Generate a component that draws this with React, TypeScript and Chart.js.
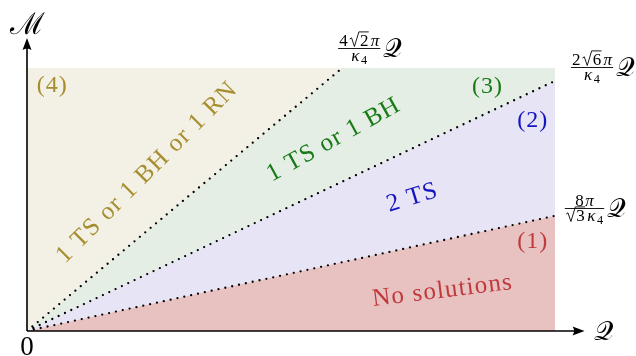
import React, { useEffect, useRef } from "react";
import { Chart, registerables } from "chart.js";
Chart.register(...registerables);

// Boundaries leave the box at (boundaryQ, boundaryM), all start at the origin
const boundaryQ = [1, 1, 0.597];
const boundaryM = [0.438, 0.951, 1];

// Region texts (1)..(4)
const regionTags = ["(1)", "(2)", "(3)", "(4)"];
const regionLabels = ["No solutions", "2 TS", "1 TS or 1 BH", "1 TS or 1 BH or 1 RN"];
const regionFill = ["#e8c1c1", "#e6e4f5", "#e4eee4", "#f3f1e6"];
const regionInk = ["#c0393b", "#1515c0", "#177a17", "#a68d2e"];
// label anchors in data units (Q, M) and rotation (degrees)
const labelQ = [0.786, 0.729, 0.58, 0.227];
const labelM = [0.152, 0.506, 0.726, 0.601];
const labelAngle = [-7, -17, -29, -45];
const tagQ = [0.957, 0.957, 0.871, 0.047];
const tagM = [0.34, 0.798, 0.93, 0.934];

type Run = { t?: string; it?: boolean; sub?: boolean; sqrt?: string };
const boundaryNum: Run[][] = [
  [{ t: "8" }, { t: "π", it: true }],
  [{ t: "2" }, { sqrt: "6" }, { t: "π", it: true }],
  [{ t: "4" }, { sqrt: "2" }, { t: "π", it: true }],
];
const boundaryDen: Run[][] = [
  [{ sqrt: "3" }, { t: "κ", it: true }, { t: "4", sub: true }],
  [{ t: "κ", it: true }, { t: "4", sub: true }],
  [{ t: "κ", it: true }, { t: "4", sub: true }],
];

const SERIF = '"Liberation Serif", "Times New Roman", serif';
const SCRIPT_Q = "𝒬";
const SCRIPT_M = "ℳ";

function runs(ctx: CanvasRenderingContext2D, rs: Run[], x: number, base: number, s: number, draw: boolean) {
  let cx = x;
  rs.forEach((r, k) => {
    if (k > 0) cx += 0.1 * s;
    if (r.sqrt !== undefined) {
      ctx.font = `${s}px ${SERIF}`;
      const w = ctx.measureText(r.sqrt).width;
      const top = base - 0.8 * s;
      if (draw) {
        ctx.beginPath();
        ctx.lineWidth = 0.9;
        ctx.moveTo(cx + 0.02 * s, base - 0.38 * s);
        ctx.lineTo(cx + 0.13 * s, base - 0.45 * s);
        ctx.lineTo(cx + 0.3 * s, base + 0.06 * s);
        ctx.lineTo(cx + 0.56 * s, top);
        ctx.lineTo(cx + 0.6 * s + w + 0.04 * s, top);
        ctx.stroke();
        ctx.fillText(r.sqrt, cx + 0.62 * s, base);
      }
      cx += 0.62 * s + w + 0.04 * s;
    } else {
      const size = r.sub ? s * 0.72 : s;
      ctx.font = `${r.it ? "italic " : ""}${size}px ${SERIF}`;
      const w = ctx.measureText(r.t || "").width;
      if (draw) ctx.fillText(r.t || "", cx, r.sub ? base + 0.22 * s : base);
      cx += w;
    }
  });
  return cx - x;
}

// draw text centred at (0,0) (current transform) with extra spacing between characters
function spaced(ctx: CanvasRenderingContext2D, text: string, gap: number) {
  const chars = Array.from(text);
  const ws = chars.map((c) => ctx.measureText(c).width);
  const total = ws.reduce((a, b) => a + b, 0) + gap * (chars.length - 1);
  let x = -total / 2;
  ctx.textAlign = "left";
  chars.forEach((c, i) => {
    ctx.fillText(c, x, 0);
    x += ws[i] + gap;
  });
}

const overlay = {
  id: "overlay",
  afterDraw(chart: any) {
    const ctx: CanvasRenderingContext2D = chart.ctx;
    const xs = chart.scales.x;
    const ys = chart.scales.y;
    const px = (v: number) => xs.getPixelForValue(v);
    const py = (v: number) => ys.getPixelForValue(v);
    ctx.save();
    ctx.fillStyle = "#000";
    ctx.strokeStyle = "#000";
    // axes
    const ox = px(0), oy = py(0);
    const xEnd = px(1.056), yEnd = py(1.114);
    ctx.lineWidth = 1.6;
    ctx.beginPath();
    ctx.moveTo(ox, oy);
    ctx.lineTo(xEnd - 8, oy);
    ctx.moveTo(ox, oy);
    ctx.lineTo(ox, yEnd + 8);
    ctx.stroke();
    // arrow heads
    ctx.beginPath();
    ctx.moveTo(xEnd, oy);
    ctx.lineTo(xEnd - 12, oy - 4.5);
    ctx.quadraticCurveTo(xEnd - 9, oy, xEnd - 12, oy + 4.5);
    ctx.closePath();
    ctx.fill();
    ctx.beginPath();
    ctx.moveTo(ox, yEnd);
    ctx.lineTo(ox - 4.5, yEnd + 12);
    ctx.quadraticCurveTo(ox, yEnd + 9, ox + 4.5, yEnd + 12);
    ctx.closePath();
    ctx.fill();

    // axis names
    ctx.textAlign = "center";
    ctx.textBaseline = "alphabetic";
    ctx.font = `30px ${SERIF}`;
    ctx.fillText(SCRIPT_M, ox, yEnd - 4);
    ctx.font = `27px ${SERIF}`;
    ctx.fillText(SCRIPT_Q, xEnd + 19, oy + 9);
    ctx.font = `27px ${SERIF}`;
    ctx.fillText("0", ox, oy + 24);

    // region labels
    for (let i = 0; i < regionLabels.length; i++) {
      ctx.save();
      ctx.fillStyle = regionInk[i];
      ctx.translate(px(labelQ[i]), py(labelM[i]));
      ctx.rotate((labelAngle[i] * Math.PI) / 180);
      ctx.font = `25px ${SERIF}`;
      ctx.textBaseline = "middle";
      spaced(ctx, regionLabels[i], 1.2);
      ctx.restore();
      ctx.save();
      ctx.fillStyle = regionInk[i];
      ctx.font = `24px ${SERIF}`;
      ctx.textBaseline = "middle";
      ctx.translate(px(tagQ[i]), py(tagM[i]));
      spaced(ctx, regionTags[i], 1);
      ctx.restore();
    }

    // boundary formulas
    const offs = [
      [29.5, -7.5],
      [37, -14],
      [17, -20.5],
    ];
    ctx.textAlign = "left";
    ctx.textBaseline = "alphabetic";
    for (let i = 0; i < 3; i++) {
      const ex = px(boundaryQ[i]);
      const ey = py(boundaryM[i]);
      const cx = ex + offs[i][0];
      const bar = Math.round(ey + offs[i][1]) + 0.5;
      const s = 17;
      const wn = runs(ctx, boundaryNum[i], 0, 0, s, false);
      const wd = runs(ctx, boundaryDen[i], 0, 0, s, false);
      const w = Math.max(wn, wd) + 2;
      runs(ctx, boundaryNum[i], cx - wn / 2, bar - 3, s, true);
      runs(ctx, boundaryDen[i], cx - wd / 2, bar + 12, s, true);
      ctx.lineWidth = 0.9;
      ctx.beginPath();
      ctx.moveTo(cx - w / 2, bar);
      ctx.lineTo(cx + w / 2, bar);
      ctx.stroke();
      ctx.font = `26px ${SERIF}`;
      ctx.fillText(SCRIPT_Q, cx + w / 2 + 3, bar + 8);
    }
    ctx.restore();
  },
};

export default function App() {
  const ref = useRef<HTMLCanvasElement>(null);
  useEffect(() => {
    if (!ref.current) return;
    const [b1, b2, b3] = [0, 1, 2].map((i) => ({ x: boundaryQ[i], y: boundaryM[i] }));
    const o = { x: 0, y: 0 };
    const polys = [
      [o, { x: 1, y: 0 }, b1],
      [o, b1, b2],
      [o, b2, { x: 1, y: 1 }, b3],
      [o, b3, { x: 0, y: 1 }],
    ];
    const fills = polys.map((p, i) => ({
      data: [...p, p[0]],
      showLine: true,
      fill: "shape",
      backgroundColor: regionFill[i],
      borderWidth: 0,
      borderColor: "rgba(0,0,0,0)",
      pointRadius: 0,
      tension: 0,
      order: 2,
    }));
    const lines = [b1, b2, b3].map((b) => ({
      data: [o, b],
      showLine: true,
      fill: false,
      borderColor: "#000",
      borderWidth: 2.3,
      borderDash: [0, 7],
      borderCapStyle: "round",
      pointRadius: 0,
      tension: 0,
      order: 1,
    }));
    const chart = new Chart(ref.current, {
      type: "scatter",
      data: { datasets: [...fills, ...lines] as any },
      options: {
        animation: false,
        responsive: false,
        layout: { padding: { left: 27, right: 81, top: 68, bottom: 25 } },
        plugins: { legend: { display: false }, tooltip: { enabled: false } },
        events: [],
        scales: {
          x: { type: "linear", min: 0, max: 1, display: false },
          y: { type: "linear", min: 0, max: 1, display: false },
        },
      },
      plugins: [overlay],
    });
    return () => chart.destroy();
  }, []);
  return (
    <div style={{ position: "fixed", left: 0, top: 0, width: 636, height: 356, background: "#fff" }}>
      <canvas ref={ref} width={636} height={356} style={{ display: "block" }} />
    </div>
  );
}
